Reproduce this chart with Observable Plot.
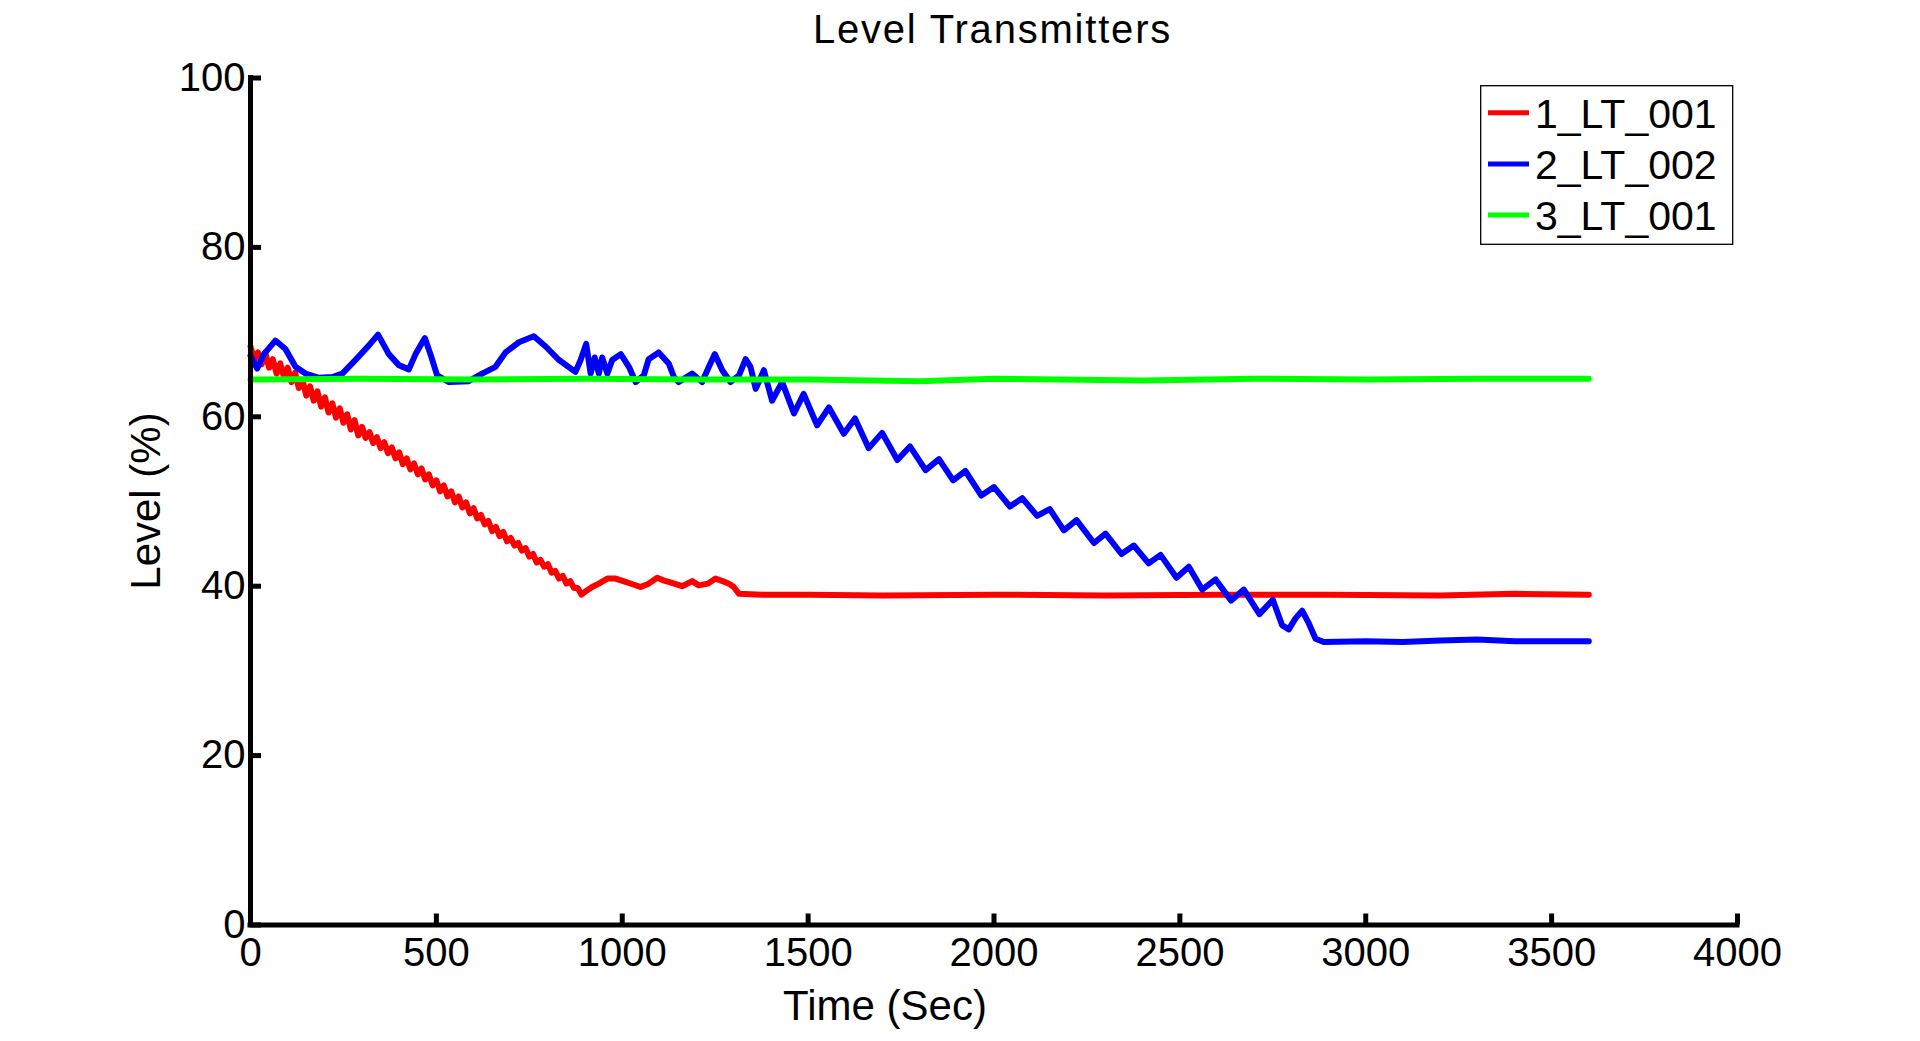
<!DOCTYPE html>
<html>
<head>
<meta charset="utf-8">
<script src="https://cdn.jsdelivr.net/npm/d3@7"></script>
<script src="https://cdn.jsdelivr.net/npm/@observablehq/plot@0.6"></script>
<style>
  html, body { margin: 0; padding: 0; background: #fff; overflow: hidden; }
  #chart svg { display: block; }
</style>
</head>
<body>
<div id="chart"></div>
<script>
// ---- Data ----
const seriesNames = ["1_LT_001", "2_LT_002", "3_LT_001"];
const seriesColors = ["#ff0000", "#0000ff", "#00ff00"];

const lt1Time = [0,10,20,30,40,50,60,70,80,90,100,110,120,130,140,150,160,170,180,190,200,210,220,230,240,250,260,270,280,290,300,310,320,330,340,350,360,370,380,390,400,410,420,430,440,450,460,470,480,490,500,510,520,530,540,550,560,570,580,590,600,610,620,630,640,650,660,670,680,690,700,710,720,730,740,750,760,770,780,790,800,810,820,830,840,850,860,870,880,890,905,919,937,960,982,1009,1030,1049,1071,1094,1110,1125,1161,1188,1206,1230,1251,1270,1287,1300,1314,1377,1500,1700,2000,2300,2600,2900,3200,3400,3600];
const lt1Level = [68.3,66.8,67.6,66.2,67.6,65.8,66.8,65.1,66.3,64.7,65.8,64.1,65.2,63.4,64.3,62.5,63.6,61.9,63.0,61.2,62.3,60.5,61.6,59.9,61.0,59.3,60.3,58.5,59.6,57.8,58.8,57.5,58.2,56.9,57.6,56.3,57.0,55.7,56.4,55.1,55.8,54.4,55.1,53.8,54.5,53.2,53.9,52.6,53.2,51.9,52.5,51.2,51.9,50.6,51.2,49.9,50.6,49.3,49.9,48.6,49.2,48.0,48.4,47.3,47.7,46.5,47.0,45.9,46.4,45.3,45.7,44.8,45.1,44.2,44.5,43.5,43.8,42.8,43.1,42.3,42.6,41.6,41.8,40.9,41.2,40.3,40.6,39.8,39.8,39.0,39.5,39.9,40.3,40.9,40.9,40.5,40.2,39.9,40.3,41.0,40.7,40.5,40.0,40.6,40.1,40.3,40.9,40.6,40.3,39.9,39.1,39.0,39.0,38.9,39.0,38.9,39.0,39.0,38.9,39.1,39.0];

const lt2Time = [0,18,36,67,94,121,148,184,220,247,282,318,343,372,399,426,444,469,484,502,534,587,623,659,686,722,762,794,830,874,888,903,915,926,937,946,960,973,996,1018,1036,1058,1071,1098,1125,1139,1152,1188,1215,1233,1249,1269,1291,1314,1332,1345,1359,1381,1403,1430,1462,1488,1524,1556,1596,1626,1663,1699,1740,1774,1816,1852,1890,1923,1966,2000,2043,2076,2116,2150,2188,2222,2269,2300,2343,2376,2416,2448,2491,2524,2560,2596,2638,2672,2714,2750,2775,2793,2811,2829,2847,2865,2887,3000,3100,3200,3300,3400,3500,3600];
const lt2Level = [67.2,65.7,67.4,69.0,68.0,65.9,65.1,64.6,64.7,65.1,66.7,68.4,69.7,67.4,66.1,65.6,67.4,69.3,67.4,64.9,64.1,64.2,65.1,65.9,67.6,68.8,69.5,68.3,66.7,65.3,66.7,68.6,65.1,67.0,65.1,67.0,65.1,66.7,67.4,65.9,64.1,64.9,66.8,67.6,66.3,64.7,64.1,65.1,64.1,65.9,67.4,65.5,64.1,64.9,66.8,65.9,63.3,65.5,61.9,64.1,60.4,62.7,59.0,61.1,58.0,59.8,56.3,58.1,54.9,56.5,53.7,55.0,52.5,53.6,50.7,51.7,49.4,50.4,48.3,49.1,46.6,47.8,45.1,46.2,43.8,44.8,42.7,43.7,41.0,42.3,39.6,40.8,38.3,39.6,36.7,38.4,35.4,34.9,36.2,37.1,35.6,33.8,33.4,33.5,33.4,33.6,33.7,33.5,33.5,33.5];

const lt3Time = [0,300,600,900,1200,1500,1800,2000,2400,2700,3000,3300,3600];
const lt3Level = [64.4,64.5,64.4,64.5,64.4,64.4,64.2,64.5,64.3,64.5,64.4,64.5,64.5];

const xTicks = [0,500,1000,1500,2000,2500,3000,3500,4000];
const yTicks = [0,20,40,60,80,100];
const titleText = "Level Transmitters";
const xLabelText = "Time (Sec)";
const yLabelText = "Level (%)";

// ---- Build tables ----
const toRows = (ts, vs) => ts.map((t, i) => ({t, v: vs[i]}));
const series = [toRows(lt1Time, lt1Level), toRows(lt2Time, lt2Level), toRows(lt3Time, lt3Level)];

const font = "'Liberation Sans', Arial, Helvetica, sans-serif";

const plot = Plot.plot({
  width: 1920,
  height: 1041,
  marginLeft: 250,
  marginRight: 183,
  marginTop: 77.5,
  marginBottom: 116.5,
  style: {fontFamily: font, fontSize: "40px", color: "#000", background: "#fff"},
  x: {domain: [0, 4000]},
  y: {domain: [0, 100]},
  marks: [
    ...series.map((rows, i) => Plot.line(rows, {x: "t", y: "v", stroke: seriesColors[i], strokeWidth: 6, strokeLinejoin: "round"})),
    Plot.ruleX([0], {stroke: "#000", strokeWidth: 5, strokeLinecap: "square"}),
    Plot.ruleY([0], {stroke: "#000", strokeWidth: 5, strokeLinecap: "square"}),
    Plot.axisX({ticks: xTicks, tickSize: -11, tickPadding: 24, strokeWidth: 5, tickFormat: d => String(d), label: null, fontSize: 40, fill: "#000"}),
    Plot.axisY({ticks: yTicks, tickSize: -11, tickPadding: 16, strokeWidth: 5, tickFormat: d => String(d), label: null, fontSize: 40, fill: "#000"})
  ]
});

document.getElementById("chart").appendChild(plot);

const svg = d3.select(plot);

// ---- Title and axis labels (alphabetic baselines) ----
const lab = svg.append("g").attr("font-family", font).attr("fill", "#000").attr("text-anchor", "middle");
lab.append("text").attr("x", 992.5).attr("y", 42.5).attr("font-size", 40).attr("letter-spacing", 1.8).text(titleText);
lab.append("text").attr("x", 885).attr("y", 1020).attr("font-size", 42).text(xLabelText);
lab.append("text").attr("transform", "translate(160,501) rotate(-90)").attr("font-size", 42).text(yLabelText);

// ---- Legend (inside the axes, top-right) ----
const lg = svg.append("g").attr("font-family", font).attr("font-size", 41).attr("text-anchor", "start");
lg.append("rect").attr("x", 1480.7).attr("y", 85.7).attr("width", 252).attr("height", 158.6)
  .attr("fill", "#fff").attr("stroke", "#000").attr("stroke-width", 1.3);
seriesNames.forEach((name, i) => {
  const cy = 112.7 + i * 51.2;
  lg.append("line").attr("x1", 1488).attr("x2", 1529).attr("y1", cy).attr("y2", cy)
    .attr("stroke", seriesColors[i]).attr("stroke-width", 5);
  lg.append("text").attr("x", 1535).attr("y", cy + 15).attr("fill", "#000").attr("text-anchor", "start").text(name);
});
</script>
</body>
</html>
